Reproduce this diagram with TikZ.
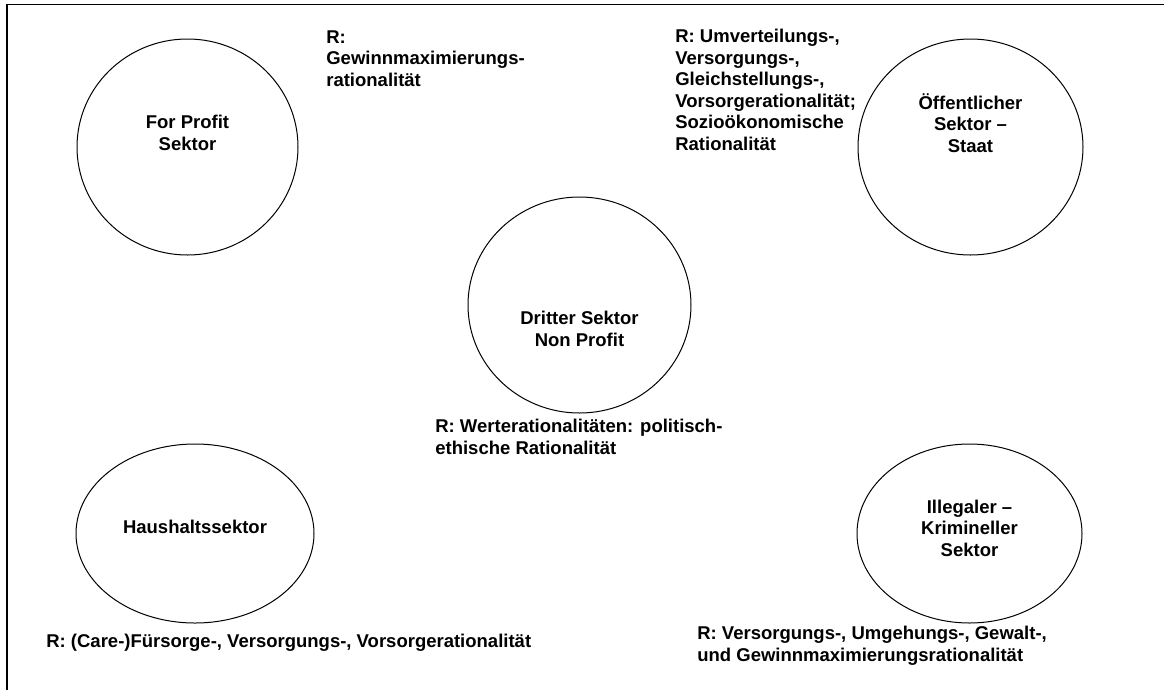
\documentclass[tikz,border=0pt]{standalone}
\usepackage{fontspec}
\setmainfont{Liberation Sans}
\usetikzlibrary{shapes.geometric}
\begin{document}
\begin{tikzpicture}[x=0.6pt, y=-0.6pt, font=\fontsize{11.1}{12.9}\selectfont\bfseries,
		sektor/.style={ellipse, draw, line width=0.6pt, inner sep=0pt},
		titel/.style={align=center, inner sep=0pt},
		ratio/.style={align=left, anchor=north west, inner sep=0pt}]
		\useasboundingbox (0,0) rectangle (1164,690);
		\coordinate (ecke) at (7,4.5);
		\coordinate (oben) at (1164,4.5);
		\coordinate (unten) at (7,690);
		\draw[line width=0.9pt] (unten) -- (ecke) -- (oben);
		\node[sektor, minimum width=132.6pt, minimum height=129.6pt] (forprofit) at (187.5,147) {};
		\node[sektor, minimum width=135pt, minimum height=129.6pt] (staat) at (970.5,147) {};
		\node[sektor, minimum width=133.8pt, minimum height=129.6pt] (dritter) at (579.5,305) {};
		\node[sektor, minimum width=142.8pt, minimum height=107.4pt] (haushalt) at (195,533.5) {};
		\node[sektor, minimum width=135pt, minimum height=107.4pt] (illegal) at (969.5,533.5) {};
		\node[titel] (forprofit-t) at (187.5,133) {For Profit\\Sektor};
		\node[titel] (staat-t) at (970.5,123) {Öffentlicher\\Sektor –\\Staat};
		\node[titel] (dritter-t) at (579.5,329) {Dritter Sektor\\Non Profit};
		\node[titel] (haushalt-t) at (195,527) {Haushaltssektor};
		\node[titel] (illegal-t) at (969.5,528) {Illegaler –\\Krimineller\\Sektor};
		\node[ratio] (forprofit-r) at (326,30) {R:\\Gewinnmaximierungs-\\rationalität};
		\node[ratio] (staat-r) at (675,29) {R: Umverteilungs-,\\Versorgungs-,\\Gleichstellungs-,\\Vorsorgerationalität;\\Sozioökonomische\\Rationalität};
		\node[ratio] (dritter-r) at (435,419) {R: Werterationalitäten: politisch-\\ethische Rationalität};
		\node[ratio] (haushalt-r) at (46,634) {R: (Care-)Fürsorge-, Versorgungs-, Vorsorgerationalität};
		\node[ratio] (illegal-r) at (697,626) {R: Versorgungs-, Umgehungs-, Gewalt-,\\und Gewinnmaximierungsrationalität};
	\end{tikzpicture}
\end{document}
